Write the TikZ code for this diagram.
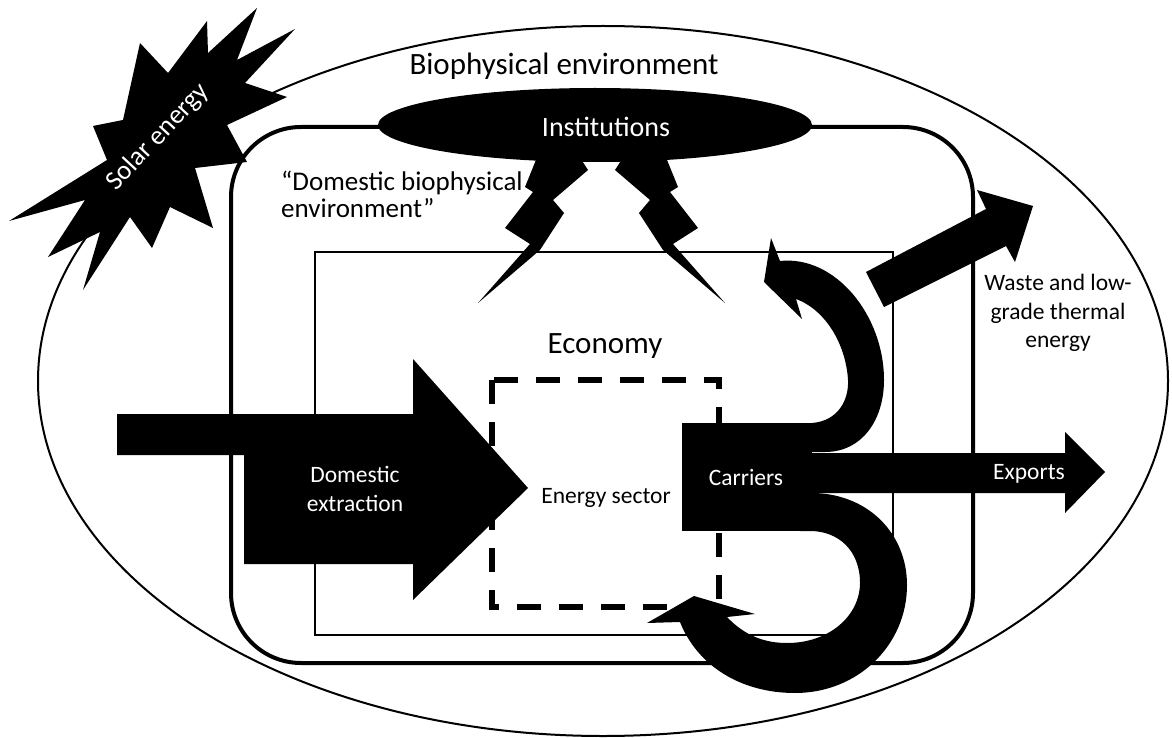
\documentclass[tikz,border=0pt]{standalone}
\usepackage{fontspec}
\setmainfont{Carlito}

\begin{document}
\begin{tikzpicture}[x=1pt, y=-1pt,
  lbl/.style={font=\fontsize{23.5}{28.5}\selectfont, align=center, inner sep=0pt},
  wlbl/.style={lbl, text=white},
  big/.style={font=\fontsize{31}{36}\selectfont, inner sep=0pt}]
  \useasboundingbox (0,0) rectangle (1172,738);
  \draw[line width=2pt] (603,381) ellipse [x radius=565pt, y radius=355pt];
  \draw[line width=4pt, rounded corners=70pt] (231,127) rectangle (973,663);
  \draw[line width=2.2pt] (315,252) rectangle (893,635);
  \draw[line width=5.5pt, dash pattern=on 24pt off 18pt] (492,380) rectangle (719,607);
  \fill (257,8) -- (237,60) -- (295,29) -- (245,83) -- (287,97) -- (227,125)
    -- (247,162) -- (195,168) -- (213,228) -- (170,207) -- (152,248) -- (130,217)
    -- (83,290) -- (100,232) -- (48,257) -- (85,200) -- (9,221) -- (107,160)
    -- (93,126) -- (123,120) -- (140,43) -- (168,73) -- (207,21) -- (208,53) -- cycle;
  \fill (540,150) -- (525,187) -- (533,192) -- (505,228) -- (530,244) -- (478,303)
    -- (540,250) -- (564,213) -- (553,200) -- (588,170) -- (575,150) -- cycle;
  \fill (663,150) -- (678,187) -- (670,192) -- (698,228) -- (673,244) -- (725,303)
    -- (663,250) -- (639,213) -- (650,200) -- (615,170) -- (628,150) -- cycle;
  \fill (595,125) ellipse [x radius=217pt, y radius=37pt];
  \fill (117,414) -- (413,414) -- (413,359) -- (528,488) -- (413,600) -- (413,564)
    -- (244,564) -- (244,455) -- (117,455) -- cycle;
  \fill (682,423) rectangle (812,531);
  \fill (780,261) .. controls (835,255) and (884,315) .. (884,380)
    .. controls (884,420) and (862,452) .. (825,452) -- (800,452) -- (800,423)
    -- (812,423) .. controls (838,421) and (849,400) .. (848,380)
    .. controls (846,345) and (826,310) .. (796,299)
    -- (802,319) -- (764,282) -- (771,238) -- cycle;
  \fill (800,493) -- (815,493) .. controls (870,495) and (907,535) .. (907,585)
    .. controls (907,645) and (858,693) .. (795,693)
    .. controls (740,693) and (697,665) .. (680,622)
    -- (647,623) -- (694,596) -- (755,614) -- (727,617)
    .. controls (745,636) and (765,643) .. (787,643)
    .. controls (830,643) and (860,615) .. (860,583)
    .. controls (860,550) and (838,531) .. (810,531) -- (800,531) -- cycle;
  \fill (800,453) -- (1065,453) -- (1065,432) -- (1105,472) -- (1065,513)
    -- (1065,493) -- (800,493) -- cycle;
  \fill (866,272) -- (986,209) -- (977,190) -- (1033,206) -- (1015,262)
    -- (1006,246) -- (884,307) -- cycle;

  \node[big, anchor=base] (bio) at (564,75) {Biophysical environment};
  \node[wlbl, font=\fontsize{28}{33}\selectfont, anchor=base] (inst) at (606,137) {Institutions};
  \node[lbl, font=\fontsize{27}{27}\selectfont, align=left, anchor=north west] (dom)
    at (281,171) {``Domestic biophysical\\environment''};
  \node[big, anchor=base] (econ) at (605,353) {Economy};
  \node[wlbl] (extr) at (355,489) {Domestic\\extraction};
  \node[lbl, anchor=base] (sector) at (606,503) {Energy sector};
  \node[wlbl, anchor=base] (carr) at (746,485) {Carriers};
  \node[wlbl, anchor=base] (exp) at (1029,479) {Exports};
  \node[lbl] (waste) at (1058,313) {Waste and low-\\grade thermal\\energy};
  \node[wlbl, font=\fontsize{27}{32}\selectfont, rotate=47, anchor=base] (sun) at (163,142) {Solar energy};
\end{tikzpicture}
\end{document}
